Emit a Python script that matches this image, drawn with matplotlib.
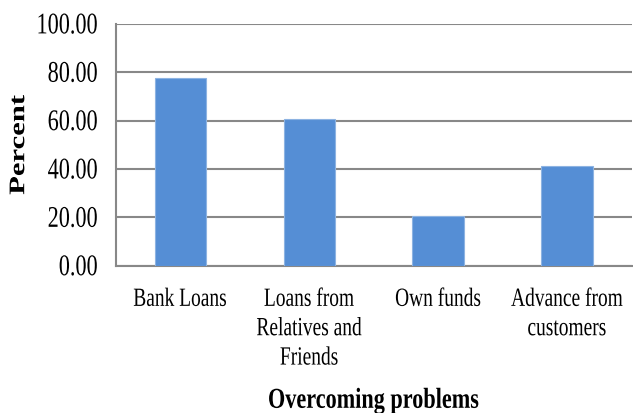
import matplotlib.pyplot as plt
import matplotlib.patheffects as pe
from matplotlib.transforms import Affine2D
import numpy as np

plt.rcParams['font.family'] = ['Liberation Serif', 'DejaVu Serif']

categories = ['Bank Loans', 'Loans from\nRelatives and\nFriends', 'Own funds', 'Advance from\ncustomers']
values = [77.7, 60.8, 20.4, 41.4]
yticks = [0, 20, 40, 60, 80, 100]


# the source picture has its text squeezed sideways (taller than normal),
# so stretch the glyph outlines a bit
class Stretch(pe.AbstractPathEffect):
    def __init__(self, sx=1.0, sy=1.0):
        super().__init__()
        self.sx = sx
        self.sy = sy

    def draw_path(self, renderer, gc, tpath, affine, rgbFace=None):
        ext = tpath.get_extents()
        cx = (ext.x0 + ext.x1) / 2
        cy = 33
        t = Affine2D().translate(-cx, -cy).scale(self.sx, self.sy).translate(cx, cy) + affine
        renderer.draw_path(gc, tpath, t, rgbFace)


fig = plt.figure(figsize=(6.33, 4.14), dpi=100)
ax = fig.add_axes([0.183, 0.356, 0.815, 0.584])

x = np.arange(len(categories))
ax.bar(x, values, width=0.4, color='#558ED5', edgecolor='#8DB3E2', linewidth=0.8, zorder=3)

ax.set_xlim(-0.5, 3.5)
ax.set_ylim(0, 100)
ax.set_yticks(yticks)
ax.set_yticklabels(['%.2f' % v for v in yticks], fontsize=16)
ax.set_xticks(x)
ax.set_xticklabels(categories, fontsize=14, linespacing=1.95, va='top')
ax.tick_params(axis='y', length=0, pad=13)
ax.tick_params(axis='x', length=0, pad=18)
for lab in ax.get_yticklabels() + ax.get_xticklabels():
    lab.set_path_effects([Stretch(sy=1.35)])

ax.grid(axis='y', color='#888888', linewidth=1.5, zorder=0)
for s in ['top', 'right']:
    ax.spines[s].set_visible(False)
ax.spines['left'].set_color('#888888')
ax.spines['left'].set_linewidth(1.5)
ax.spines['bottom'].set_color('#888888')
ax.spines['bottom'].set_linewidth(1.5)

yl = ax.set_ylabel('Percent', fontsize=16, fontweight='bold')
ax.yaxis.set_label_coords(-0.168, 0.5)
yl.set_path_effects([Stretch(sx=1.38)])

xl = ax.set_xlabel('Overcoming problems', fontsize=16, fontweight='bold')
ax.xaxis.set_label_coords(0.5, -0.579)
xl.set_va('baseline')
xl.set_path_effects([Stretch(sy=1.3)])

fig.savefig('out.png', dpi=100)
